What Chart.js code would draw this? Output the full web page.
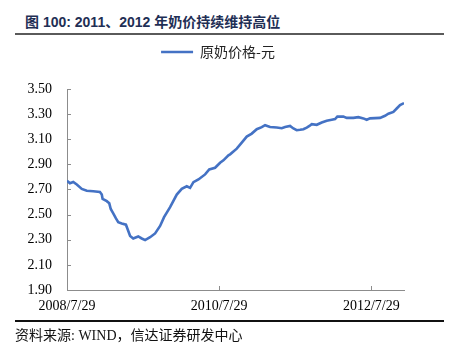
<!DOCTYPE html>
<html>
<head>
<meta charset="utf-8">
<script src="https://cdn.jsdelivr.net/npm/chart.js@4"></script>
<style>
    html, body { margin: 0; padding: 0; background: #fff; }
    #wrap { position: relative; width: 456px; height: 353px; overflow: hidden; }
    #chart { position: absolute; left: 0; top: 0; }
    .title {
        position: absolute; left: 25px; top: 11px;
        font: bold 14px "Liberation Sans", "Noto Sans CJK SC", sans-serif;
        color: #1f2f55; white-space: nowrap;
    }
    .rule-top { position: absolute; left: 15px; top: 33px; width: 429px; height: 2px; background: #5a5a5a; }
    .rule-bottom { position: absolute; left: 15px; top: 320px; width: 429px; height: 2px; background: #111; }
    .source {
        position: absolute; left: 15px; top: 324px;
        font: 14px "Liberation Serif", "Noto Sans CJK SC", serif;
        color: #111; white-space: nowrap;
    }
</style>
</head>
<body>
<div id="wrap">
    <div class="title">图 100: 2011、2012 年奶价持续维持高位</div>
    <div class="rule-top"></div>
    <canvas id="chart" width="456" height="353"></canvas>
    <div class="rule-bottom"></div>
    <div class="source">资料来源: WIND，信达证券研发中心</div>
</div>
<script>
// 数据
const seriesName = '原奶价格-元';
const startDate = '2008-07-29';
const xTickLabels = ['2008/7/29', '2010/7/29', '2012/7/29'];
const yTicks = [1.90, 2.10, 2.30, 2.50, 2.70, 2.90, 3.10, 3.30, 3.50];

const priceDates = [
    '2008-07-29', '2008-08-12', '2008-08-28', '2008-09-14', '2008-10-08', '2008-11-01',
    '2008-12-02', '2009-01-03', '2009-01-12', '2009-01-16', '2009-02-05', '2009-02-17',
    '2009-02-24', '2009-03-08', '2009-03-21', '2009-04-01', '2009-04-18', '2009-05-08',
    '2009-05-17', '2009-05-28', '2009-06-12', '2009-07-06', '2009-07-23', '2009-08-08',
    '2009-09-01', '2009-09-25', '2009-10-19', '2009-11-07', '2009-12-06', '2010-01-07',
    '2010-01-31', '2010-02-24', '2010-03-12', '2010-03-28', '2010-04-21', '2010-05-23',
    '2010-06-12', '2010-07-10', '2010-08-03', '2010-08-19', '2010-09-12', '2010-09-20',
    '2010-10-22', '2010-11-15', '2010-12-09', '2011-01-02', '2011-01-26', '2011-02-19',
    '2011-03-07', '2011-03-31', '2011-05-02', '2011-05-26', '2011-06-11', '2011-07-05',
    '2011-07-21', '2011-08-06', '2011-08-22', '2011-09-07', '2011-09-23', '2011-10-06',
    '2011-10-17', '2011-11-10', '2011-12-04', '2011-12-28', '2012-01-21', '2012-02-06',
    '2012-02-17', '2012-03-17', '2012-04-02', '2012-05-04', '2012-05-28', '2012-06-21',
    '2012-07-07', '2012-07-23', '2012-09-09', '2012-10-03', '2012-10-19', '2012-11-12',
    '2012-11-28', '2012-12-14', '2013-01-02'
];
const priceValues = [
    2.77, 2.75, 2.76, 2.74, 2.705, 2.69,
    2.686, 2.68, 2.66, 2.625, 2.607, 2.59,
    2.545, 2.51, 2.47, 2.44, 2.43, 2.42,
    2.38, 2.33, 2.31, 2.326, 2.31, 2.297,
    2.32, 2.35, 2.41, 2.48, 2.56, 2.66,
    2.705, 2.726, 2.713, 2.758, 2.78, 2.82,
    2.86, 2.873, 2.913, 2.932, 2.972, 2.98,
    3.025, 3.073, 3.121, 3.145, 3.18, 3.196,
    3.212, 3.198, 3.193, 3.188, 3.198, 3.206,
    3.186, 3.172, 3.175, 3.18, 3.193, 3.206,
    3.22, 3.215, 3.233, 3.247, 3.255, 3.26,
    3.28, 3.28, 3.27, 3.27, 3.276, 3.266,
    3.255, 3.266, 3.27, 3.287, 3.303, 3.318,
    3.345, 3.372, 3.388
];

// 日期 -> 距起始日天数
function dayOffset(str) {
    const p = str.split(/[-\/]/).map(Number);
    const s = startDate.split('-').map(Number);
    return Math.round((Date.UTC(p[0], p[1] - 1, p[2]) - Date.UTC(s[0], s[1] - 1, s[2])) / 86400000);
}

const points = priceDates.map((d, i) => ({ x: dayOffset(d), y: priceValues[i] }));
const xTickValues = xTickLabels.map(dayOffset);

// 图例：与绘图区之间留出间距，并略向右移
const legendTweak = {
    id: 'legendTweak',
    beforeInit(chart) {
        const fit = chart.legend.fit;
        chart.legend.fit = function () {
            fit.bind(chart.legend)();
            this.height += 20;
        };
    },
    afterLayout(chart) {
        chart.legend.left += 32;
    }
};

// 向内的刻度线
const innerTicks = {
    id: 'innerTicks',
    afterDraw(chart) {
        const ctx = chart.ctx;
        const xs = chart.scales.x, ys = chart.scales.y;
        ctx.save();
        ctx.strokeStyle = '#8c8c8c';
        ctx.lineWidth = 1;
        ctx.beginPath();
        yTicks.forEach(v => {
            const py = Math.round(ys.getPixelForValue(v)) + 0.5;
            ctx.moveTo(xs.left, py);
            ctx.lineTo(xs.left + 4, py);
        });
        xTickValues.forEach(v => {
            const px = Math.round(xs.getPixelForValue(v)) + 0.5;
            ctx.moveTo(px, ys.bottom);
            ctx.lineTo(px, ys.bottom - 4);
        });
        ctx.stroke();
        ctx.restore();
    }
};

new Chart(document.getElementById('chart'), {
    type: 'line',
    data: {
        datasets: [{
            label: seriesName,
            data: points,
            borderColor: '#4472C4',
            backgroundColor: '#4472C4',
            borderWidth: 2.6,
            pointRadius: 0,
            tension: 0,
            fill: false
        }]
    },
    options: {
        responsive: false,
        animation: false,
        layout: { padding: { top: 35, right: 52, left: 0, bottom: 0 } },
        plugins: {
            legend: {
                position: 'top',
                labels: {
                    usePointStyle: true,
                    pointStyle: 'line',
                    pointStyleWidth: 32,
                    padding: 10,
                    color: '#222',
                    font: { family: "'Noto Sans CJK SC', sans-serif", size: 14 }
                }
            },
            tooltip: { enabled: false }
        },
        scales: {
            x: {
                type: 'linear',
                min: 0,
                max: points[points.length - 1].x,
                afterBuildTicks: scale => {
                    scale.ticks = xTickValues.map(v => ({ value: v }));
                },
                afterFit: scale => { scale.height = 63; },
                grid: { display: false, drawTicks: false },
                border: { display: true, color: '#8c8c8c', width: 1 },
                ticks: {
                    padding: 8,
                    maxRotation: 0,
                    color: '#000',
                    font: { family: "'Liberation Serif', serif", size: 14 },
                    callback: function (value) {
                        const i = xTickValues.indexOf(value);
                        return i >= 0 ? xTickLabels[i] : '';
                    }
                }
            },
            y: {
                min: 1.9,
                max: 3.5,
                afterBuildTicks: scale => {
                    scale.ticks = yTicks.map(v => ({ value: v }));
                },
                afterFit: scale => { scale.width = 67; },
                grid: { display: false, drawTicks: false },
                border: { display: true, color: '#8c8c8c', width: 1 },
                ticks: {
                    padding: 15,
                    color: '#000',
                    font: { family: "'Liberation Serif', serif", size: 14 },
                    callback: value => Number(value).toFixed(2)
                }
            }
        }
    },
    plugins: [legendTweak, innerTicks]
});
</script>
</body>
</html>
